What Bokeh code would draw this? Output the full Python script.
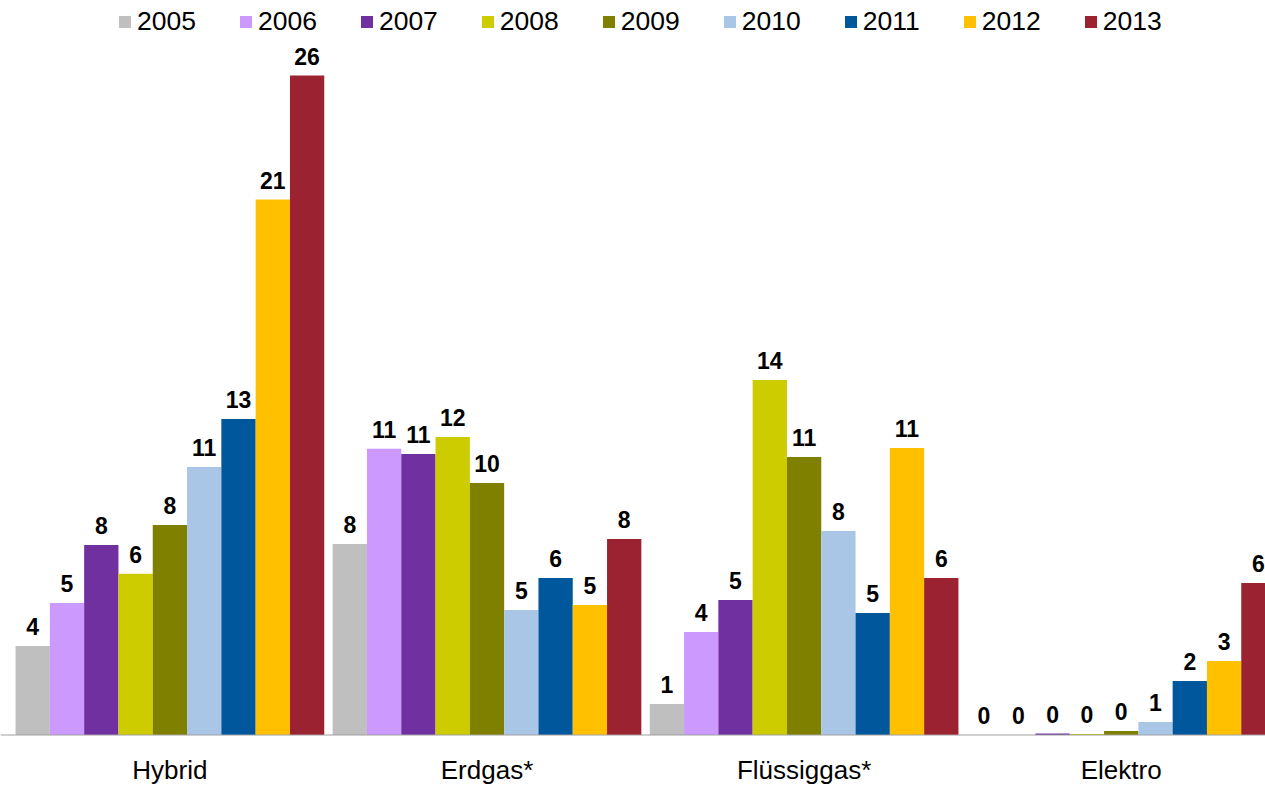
import numpy as np
from bokeh.plotting import figure
from bokeh.models import ColumnDataSource, LabelSet, Range1d, Span, Legend
from bokeh.core.properties import value
from bokeh.embed import file_html
from bokeh.resources import INLINE

categories = ["Hybrid", "Erdgas*", "Flüssiggas*", "Elektro"]
years = ["2005", "2006", "2007", "2008", "2009", "2010", "2011", "2012", "2013"]

v2005 = [3.56, 7.64, 1.24, 0.0]
v2006 = [5.28, 11.45, 4.12, 0.0]
v2007 = [7.60, 11.24, 5.40, 0.06]
v2008 = [6.45, 11.92, 14.20, 0.04]
v2009 = [8.40, 10.08, 11.12, 0.16]
v2010 = [10.72, 5.00, 8.16, 0.52]
v2011 = [12.64, 6.28, 4.88, 2.16]
v2012 = [21.42, 5.20, 11.48, 2.96]
v2013 = [26.38, 7.84, 6.28, 6.08]
series = [v2005, v2006, v2007, v2008, v2009, v2010, v2011, v2012, v2013]

colors = ["#BFBFBF", "#CC99FF", "#7030A0", "#CCCC00", "#808000",
          "#A9C6E7", "#00579B", "#FFC000", "#9B2230"]

FONT = "Liberation Sans"
W, H = 1265, 787
unit_px = 317.1           # pixels per category
bar_w = 34.3 / unit_px    # bar width in category units
px_per_val = 25.0

x_start = -169.4 / unit_px
x_end = x_start + W / unit_px
y_start = -(H - 734.5) / px_per_val
y_end = y_start + H / px_per_val

p = figure(width=W, height=H, output_backend="svg", toolbar_location=None,
           x_range=Range1d(x_start, x_end), y_range=Range1d(y_start, y_end),
           x_axis_location=None, y_axis_location=None, min_border=0)
p.grid.visible = False
p.outline_line_color = None
p.background_fill_color = "white"
p.border_fill_color = "white"

base = np.arange(len(categories), dtype=float)
items = []
for j, (yr, vals, col) in enumerate(zip(years, series, colors)):
    xs = base + (j - 4) * bar_w
    src = ColumnDataSource(dict(x=xs, top=vals, lbl=[f"{v:.0f}" for v in vals]))
    r = p.vbar(x="x", top="top", bottom=0, width=bar_w, source=src,
               fill_color=col, line_color=None)
    items.append((yr, [r]))
    lab = LabelSet(x="x", y="top", text="lbl", source=src, text_align="center",
                   text_baseline="alphabetic", y_offset=11,
                   text_font=value(FONT), text_font_size="23px",
                   text_font_style="bold", text_color="black")
    p.add_layout(lab)

p.add_layout(Span(location=0, dimension="width", line_color="#A0A0A0", line_width=1))

cat_src = ColumnDataSource(dict(x=base, y=np.zeros(len(categories)), t=categories))
p.add_layout(LabelSet(x="x", y="y", text="t", source=cat_src, text_align="center",
                      text_baseline="alphabetic", y_offset=-44,
                      text_font=value(FONT), text_font_size="26px", text_color="black"))

legend = Legend(items=items, orientation="horizontal", location=(117, 750),
                glyph_width=15, glyph_height=15, label_standoff=5, spacing=42,
                padding=0, margin=0, border_line_color=None,
                background_fill_alpha=0, label_text_font=FONT,
                label_text_font_size="26.5px", label_text_color="black")
p.add_layout(legend)

open("out.html", "w").write(file_html(p, INLINE))
